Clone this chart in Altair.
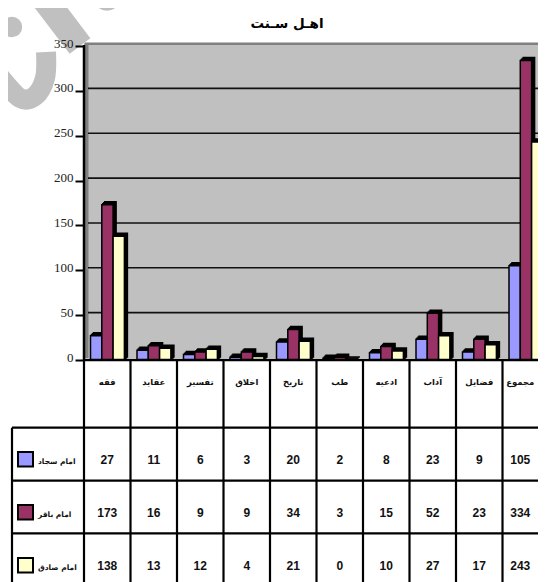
import altair as alt
import pandas as pd

categories = ["فقه", "عقايد", "تفسير", "اخلاق", "تاريخ", "طب", "ادعيه", "آداب", "فضايل", "مجموع"]
series_names = ["امام سجاد", "امام باقر", "امام صادق"]
sajjad = [27, 11, 6, 3, 20, 2, 8, 23, 9, 105]
baqir = [173, 16, 9, 9, 34, 3, 15, 52, 23, 334]
sadiq = [138, 13, 12, 4, 21, 0, 10, 27, 17, 243]
series_values = [sajjad, baqir, sadiq]
colors = ["#9999FF", "#993366", "#FFFFCC"]
y_ticks = [0, 50, 100, 150, 200, 250, 300, 350]
title_text = "اهـل سـنت"

W, H = 530, 574
PX_X0, PX_STEP = 84.0, 46.5
PX_Y0, PX_UNIT = 360.0, 0.897
RIGHT, BOTTOM = 8 + W, 8 + H


def ux(px):
    return (px - PX_X0) / PX_STEP


def uy(py):
    return (PX_Y0 - py) / PX_UNIT


x_scale = alt.Scale(domain=[ux(8), ux(RIGHT)], range=[0, W], nice=False, zero=False)
y_scale = alt.Scale(domain=[uy(BOTTOM), uy(8)], range=[H, 0], nice=False, zero=False)
X = alt.X("x:Q", scale=x_scale, axis=None)
Y = alt.Y("y:Q", scale=y_scale)


def seg(x1, y1, x2, y2, color="black", width=2.0):
    d = pd.DataFrame({"x": [ux(x1)], "x2": [ux(x2)], "y": [uy(y1)], "y2": [uy(y2)]})
    return alt.Chart(d).mark_rule(color=color, strokeWidth=width, clip=True).encode(
        x=X, x2="x2:Q", y=Y, y2="y2:Q")


def box(x1, y1, x2, y2, fill, stroke=None, sw=0):
    d = pd.DataFrame({"x": [ux(x1)], "x2": [ux(x2)], "y": [uy(y1)], "y2": [uy(y2)]})
    kw = dict(stroke=stroke, strokeWidth=sw) if stroke else {}
    return alt.Chart(d).mark_rect(fill=fill, clip=True, **kw).encode(
        x=X, x2="x2:Q", y=Y, y2="y2:Q")


layers = []

# y axis carrying the real ticks (first layer defines the shared axis)
axis_df = pd.DataFrame({"y": y_ticks})
layers.append(alt.Chart(axis_df).mark_point(opacity=0).encode(
    y=alt.Y("y:Q", scale=y_scale, axis=alt.Axis(
        values=y_ticks, title=None, grid=False, domain=False, offset=-76, orient="left", zindex=1,
        tickColor="black", tickWidth=2, tickSize=9, labelPadding=2, labelOffset=-3,
        labelFont="Liberation Serif", labelFontSize=13, labelColor="#222222"))))

# watermark fragments
wm = "#C0C0C0"
layers.append(seg(36, -12, 80, 46, color=wm, width=26))
arc_pts = [(46, 52), (45, 78), (35, 96), (20, 98), (0, 77), (-8, 65)]
arc = pd.DataFrame({"x": [ux(p[0]) for p in arc_pts], "y": [uy(p[1]) for p in arc_pts]})
arc["o"] = range(len(arc))
layers.append(alt.Chart(arc).mark_line(color=wm, strokeWidth=20, interpolate="cardinal", clip=True)
              .encode(x=X, y=Y, order="o:Q"))
for (cx, cy, r) in [(12, 27, 11.5), (107, -3, 15.5)]:
    d = pd.DataFrame({"x": [ux(cx)], "y": [uy(cy)]})
    layers.append(alt.Chart(d).mark_circle(color=wm, opacity=1, size=3.1416 * r * r, clip=True)
                  .encode(x=X, y=Y))

# wall
layers.append(box(84, 43.5, 560, 358, "#C0C0C0"))
layers.append(box(84.5, 43, 88.5, 358, "#808080"))
layers.append(box(85, 42.5, 560, 45, "#808080"))

# back-wall gridlines
grid = pd.DataFrame({"y": [v for v in y_ticks if 0 < v < 350]})
grid["x"] = ux(88)
grid["x2"] = ux(560)
layers.append(alt.Chart(grid).mark_rule(color="#111111", strokeWidth=1.6, yOffset=-2.5, clip=True)
              .encode(x=X, x2="x2:Q", y=Y))

# 3-D bars
rows = []
for s, vals in enumerate(series_values):
    for i, v in enumerate(vals):
        rows.append({"cat": i, "s": s, "v": v})
bars = pd.DataFrame(rows)
bars["x"] = bars["cat"] + ux(PX_X0 + 6.5) + bars["s"] * 11.3 / PX_STEP
bars["x2"] = bars["x"] + 11.3 / PX_STEP
bars["y"] = bars["v"]
bars["y2"] = 0
for s, color in enumerate(colors):
    part = bars[bars["s"] == s]
    for off in (3, 2, 1):
        layers.append(alt.Chart(part).mark_rect(fill="black", stroke="black", strokeWidth=1.5,
                                                xOffset=off, yOffset=-off, x2Offset=off, y2Offset=-off, clip=True)
                      .encode(x=X, x2="x2:Q", y=Y, y2="y2:Q"))
    layers.append(alt.Chart(part).mark_rect(fill=color, stroke="black", strokeWidth=1.5, clip=True)
                  .encode(x=X, x2="x2:Q", y=Y, y2="y2:Q"))

layers.append(seg(84, 45, 84, 361, width=2.5))

# table lines
table_rows = [427.7, 480.7, 533.3]
layers.append(seg(84, 360, 560, 360, width=2.5))
for ry in table_rows:
    layers.append(seg(12, ry, 560, ry, width=2.2))
for i in range(1, 11):
    px = PX_X0 + i * PX_STEP
    layers.append(seg(px, 360, px, 590, width=2.2))
layers.append(seg(84, 360, 84, 590, width=2.2))
layers.append(seg(12, 427.7, 12, 590, width=2.2))

# label centres: the last column is centred in the part of the cell that is visible
col_centers = [i + 0.5 for i in range(9)] + [9 + (ux(RIGHT) - 9) / 2]

# category row
cat_df = pd.DataFrame({"x": col_centers, "y": uy(381.5), "t": categories})
layers.append(alt.Chart(cat_df).mark_text(font="DejaVu Sans", fontWeight="bold", fontSize=8.5, color="#111111")
              .encode(x=X, y=Y, text="t:N"))

# value rows
row_centers = [460, 513, 566]
for vals, cy in zip(series_values, row_centers):
    d = pd.DataFrame({"x": col_centers, "y": uy(cy), "t": [str(v) for v in vals]})
    layers.append(alt.Chart(d).mark_text(font="Liberation Sans Narrow, Liberation Sans", fontWeight="bold",
                                         fontSize=12, color="#111111")
                  .encode(x=X, y=Y, text="t:N"))

# legend keys inside the table
for name, color, cy in zip(series_names, colors, row_centers):
    layers.append(box(18, cy - 8, 33, cy + 6.5, color, "black", 2))
    d = pd.DataFrame({"x": [ux(38)], "y": [uy(cy + 1.5)], "t": [name]})
    layers.append(alt.Chart(d).mark_text(font="DejaVu Sans", fontWeight="bold", fontSize=7.5, align="left", color="#111111")
                  .encode(x=X, y=Y, text="t:N"))

chart = alt.layer(*layers).properties(
    width=W, height=H, padding=0,
    autosize=alt.AutoSizeParams(type="none"),
    title=alt.TitleParams(title_text, font="DejaVu Sans", fontWeight="bold", fontSize=13.5,
                          color="black", anchor="middle", offset=-22, dx=14),
).configure_view(stroke=None)

chart.save("out.html", embed_options={"renderer": "svg", "actions": False})
